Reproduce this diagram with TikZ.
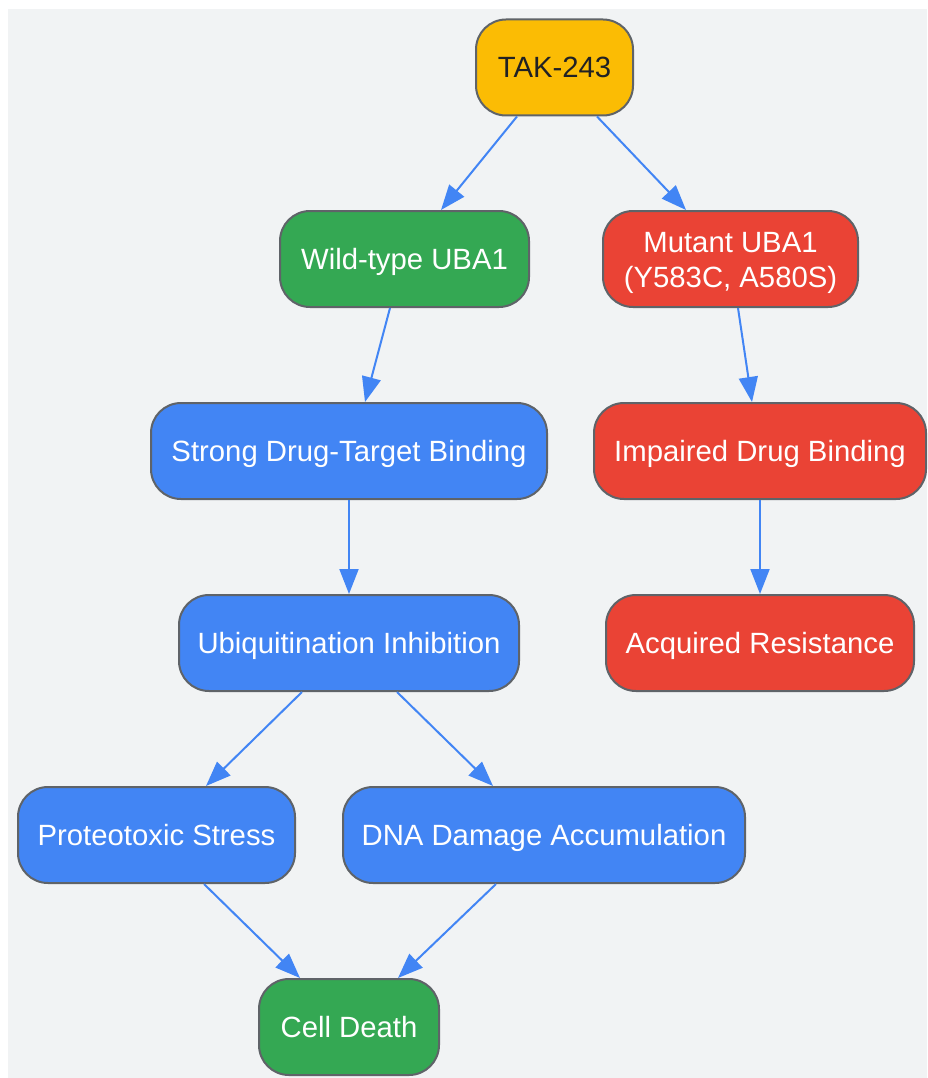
\documentclass[tikz,border=0pt]{standalone}
\usepackage{fontspec}
\setmainfont{Liberation Sans}
\usetikzlibrary{arrows.meta}
\definecolor{bgc}{HTML}{F1F3F4}
\definecolor{yel}{HTML}{FBBC04}
\definecolor{grn}{HTML}{34A853}
\definecolor{rd}{HTML}{EA4335}
\definecolor{blu}{HTML}{4285F4}
\definecolor{brd}{HTML}{5F6368}
\definecolor{dk}{HTML}{202124}
\tikzset{
  box/.style={draw=brd, line width=2pt, rounded corners=30pt, inner sep=0pt,
    minimum height=96pt, align=center, text=white,
    text height=21pt, text depth=0pt,
    font=\fontsize{29.3}{35}\selectfont},
  ybox/.style={box, fill=yel, text=dk},
  gbox/.style={box, fill=grn},
  rbox/.style={box, fill=rd},
  bbox/.style={box, fill=blu},
  arr/.style={draw=blu, line width=2pt, -{Triangle[length=25pt,width=19pt]}}
}
\begin{document}
\begin{tikzpicture}[x=1pt,y=-1pt]
\useasboundingbox (0,0) rectangle (927,1078);
\fill[bgc] (8,9) rectangle (927,1078);
\node[ybox, minimum width=157pt] (tak) at (554.5,67.5) {TAK-243};
\node[gbox, minimum width=249pt] (wild) at (404.5,259) {Wild-type UBA1};
\node[rbox, minimum width=255pt, text height=56pt] (mut) at (730.5,259) {Mutant UBA1\\(Y583C, A580S)};
\node[bbox, minimum width=396pt] (strong) at (349,451) {Strong Drug-Target Binding};
\node[rbox, minimum width=332pt] (imp) at (760,451) {Impaired Drug Binding};
\node[bbox, minimum width=340pt] (ubi) at (349,643) {Ubiquitination Inhibition};
\node[rbox, minimum width=308pt] (acq) at (760,643) {Acquired Resistance};
\node[bbox, minimum width=277pt] (prot) at (156.5,835) {Proteotoxic Stress};
\node[bbox, minimum width=402pt] (dna) at (544,835) {DNA Damage Accumulation};
\node[gbox, minimum width=180pt] (cell) at (349,1027) {Cell Death};
\draw[arr] ([xshift=-37.5pt]tak.south) -- ([xshift=36.5pt]wild.north);
\draw[arr] ([xshift=42.5pt]tak.south) -- ([xshift=-44.5pt]mut.north);
\draw[arr] ([xshift=-14.5pt]wild.south) -- ([xshift=16pt]strong.north);
\draw[arr] ([xshift=7.5pt]mut.south) -- ([xshift=-8pt]imp.north);
\draw[arr] (strong.south) -- (ubi.north);
\draw[arr] (imp.south) -- (acq.north);
\draw[arr] ([xshift=-47pt]ubi.south) -- ([xshift=49.5pt]prot.north);
\draw[arr] ([xshift=48pt]ubi.south) -- ([xshift=-51pt]dna.north);
\draw[arr] ([xshift=47.5pt]prot.south) -- ([xshift=-49pt]cell.north);
\draw[arr] ([xshift=-48pt]dna.south) -- ([xshift=49pt]cell.north);
\end{tikzpicture}
\end{document}
